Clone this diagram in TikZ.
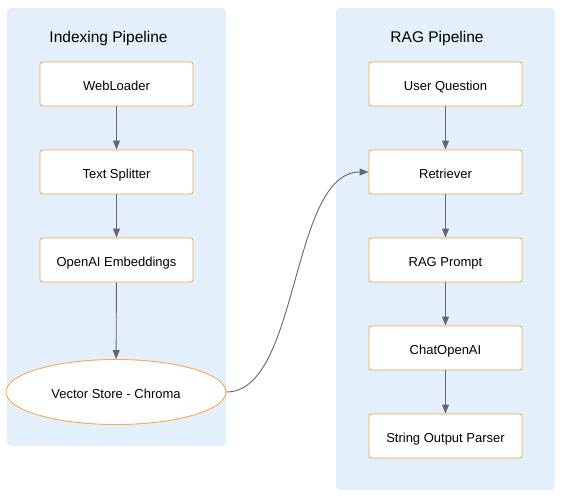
\documentclass[tikz,border=0pt]{standalone}
\usepackage{fontspec}
\setmainfont{Liberation Sans}
\usetikzlibrary{shapes.geometric,arrows.meta}
\definecolor{clusterfill}{HTML}{E3F0FC}
\definecolor{nodeborder}{HTML}{F5A64F}
\definecolor{edgegray}{HTML}{666666}
\tikzset{
  cluster/.style={fill=clusterfill, draw=none, rounded corners=4pt},
  box/.style={draw=nodeborder, fill=white, line width=0.9pt, rounded corners=2.5pt,
    minimum width=153pt, minimum height=44pt, inner sep=0pt,
    text height=12pt, text depth=0pt,
    font=\fontsize{13}{15}\selectfont},
  oval/.style={ellipse, draw=nodeborder, fill=white, line width=0.9pt,
    minimum width=220pt, minimum height=65pt, inner sep=0pt,
    text height=12pt, text depth=0pt,
    font=\fontsize{13}{15}\selectfont},
  title/.style={font=\fontsize{15.5}{18}\selectfont, inner sep=0pt,
    text height=13pt, text depth=0pt},
  edge/.style={draw=edgegray, line width=0.9pt, -{Triangle[length=9pt,width=7pt]}}
}
\begin{document}
\begin{tikzpicture}[x=1pt,y=-1pt]
\useasboundingbox (0,0) rectangle (566,501);
\fill[cluster] (7,8) rectangle (226,446);
\fill[cluster] (336,8) rectangle (555,490);
\node[title] (t1) at (108.5,36) {Indexing Pipeline};
\node[title] (t2) at (437,36) {RAG Pipeline};
\node[box] (web) at (116.5,84) {WebLoader};
\node[box] (split) at (116.5,172) {Text Splitter};
\node[box] (emb) at (116.5,260) {OpenAI Embeddings};
\node[oval] (vs) at (116,392) {Vector Store - Chroma};
\node[box] (uq) at (445.5,84) {User Question};
\node[box] (ret) at (445.5,172) {Retriever};
\node[box] (prompt) at (445.5,260) {RAG Prompt};
\node[box] (chat) at (445.5,348) {ChatOpenAI};
\node[box] (parser) at (445.5,436) {String Output Parser};
\draw[edge] (web) -- (split);
\draw[edge] (split) -- (emb);
\draw[edge] (emb) -- (vs);
\draw[edge] (uq) -- (ret);
\draw[edge] (ret) -- (prompt);
\draw[edge] (prompt) -- (chat);
\draw[edge] (chat) -- (parser);
\draw[edge] (vs.east) .. controls (300,392) and (290,172) .. (ret.west);
\end{tikzpicture}
\end{document}
